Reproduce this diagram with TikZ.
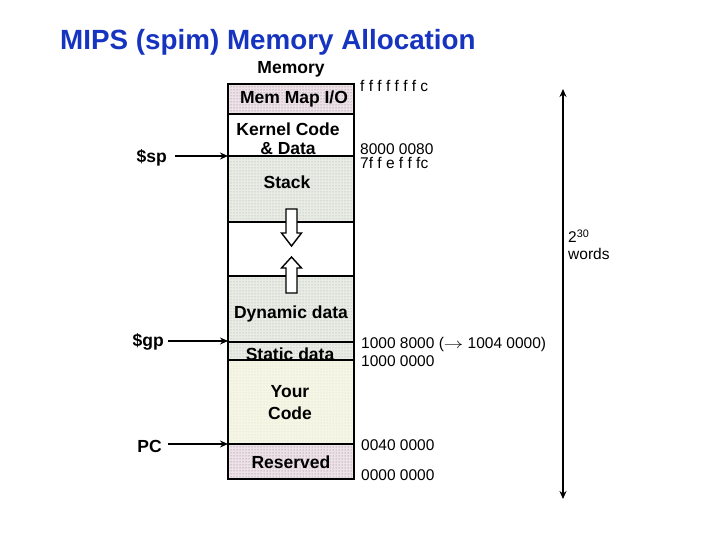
\documentclass[tikz,border=0pt]{standalone}
\usepackage{fontspec}
\setmainfont{Liberation Sans}
\usetikzlibrary{patterns,arrows.meta}
\definecolor{titleblue}{RGB}{22,52,192}
\definecolor{pinkbg}{RGB}{238,226,232}
\definecolor{greybg}{RGB}{232,236,228}
\definecolor{yellowbg}{RGB}{246,246,228}
\tikzset{
  lbl/.style={font=\fontsize{17.5}{20}\selectfont\bfseries, inner sep=0pt, align=center},
  addr/.style={font=\fontsize{15.5}{17}\selectfont, inner sep=0pt, anchor=west},
  region/.style={line width=2pt},
  dotted pink/.style={fill=pinkbg, postaction={pattern=dots, pattern color=black!55}},
  dotted grey/.style={fill=greybg, postaction={pattern=dots, pattern color=black!35}},
  dotted yellow/.style={fill=yellowbg, postaction={pattern=dots, pattern color=black!15}},
  ptr/.style={line width=1.8pt, -{Stealth[length=8pt,width=7pt]}},
  blockarrow/.style={fill=white, draw=black, line width=1.4pt, line join=miter},
  span/.style={line width=1.8pt, {Stealth[length=8pt,width=7pt]}-{Stealth[length=8pt,width=7pt]}}
}
\begin{document}
\begin{tikzpicture}[x=1pt,y=-1pt]
\useasboundingbox (0,0) rectangle (720,540);
% title
\node[anchor=west, inner sep=0pt, text=titleblue, font=\fontsize{27.8}{30}\selectfont\bfseries] (title) at (60,42) {MIPS (spim) Memory Allocation};
% regions
\fill[dotted pink] (228,84) rectangle (354,114);
\fill[white] (228,114) rectangle (354,156);
\fill[dotted grey] (228,156) rectangle (354,222);
\fill[white] (228,222) rectangle (354,276);
\fill[dotted grey] (228,276) rectangle (354,360);
\fill[dotted yellow] (228,360) rectangle (354,444);
\fill[dotted pink] (228,444) rectangle (354,479);
\foreach \yy in {114,156,222,276,342,360,444}
  \draw[region] (228,\yy) -- (354,\yy);
\draw[region] (228,84) rectangle (354,479);
% block arrows
\draw[blockarrow] (286,209) -- (297,209) -- (297,233) -- (301.5,233) -- (291.5,246) -- (281.5,233) -- (286,233) -- cycle;
\draw[blockarrow] (286,293) -- (297,293) -- (297,268) -- (301.5,268) -- (291.5,257) -- (281.5,268) -- (286,268) -- cycle;
% region labels
\node[lbl] (memory) at (291,69) {Memory};
\node[lbl] (memmap) at (294,99) {Mem Map I/O};
\node[lbl] (kernel1) at (288,129) {Kernel Code};
\node[lbl] (kernel2) at (288,149) {\& Data};
\node[lbl] (stack) at (287,182) {Stack};
\node[lbl] (dynamic) at (291,314) {Dynamic data};
\node[lbl] (static) at (290,354) {Static data};
\node[lbl] (your) at (290,392) {Your};
\node[lbl] (code) at (290,413) {Code};
\node[lbl] (reserved) at (291,462) {Reserved};
% addresses
\node[addr] (a1) at (360,86) {f f f f f f f c};
\node[addr] (a2) at (360,149) {8000 0080};
\node[addr] (a3) at (360,163) {7f f e f f fc};
\node[addr] (a4) at (361,344) {1000 8000 (\scalebox{1.35}[1]{$\rightarrow$} 1004 0000)};
\node[addr] (a5) at (361,361) {1000 0000};
\node[addr] (a6) at (361,445) {0040 0000};
\node[addr] (a7) at (361,475) {0000 0000};
% pointers
\node[lbl, anchor=east] (sp) at (167,158) {\$sp};
\node[lbl, anchor=east] (gp) at (164,342) {\$gp};
\node[lbl, anchor=east] (pc) at (162,446) {PC};
\coordinate (spT) at (228,156);
\coordinate (gpT) at (228,341);
\coordinate (pcT) at (228,444);
\draw[ptr, shorten <=8pt] (sp.east |- spT) -- (spT);
\draw[ptr, shorten <=4pt] (gp.east |- gpT) -- (gpT);
\draw[ptr, shorten <=6pt] (pc.east |- pcT) -- (pcT);
% span
\coordinate (top) at (563,89);
\coordinate (bot) at (563,499);
\draw[span] (top) -- (bot);
\node[addr] (pow) at (568,236) {2\textsuperscript{30}};
\node[addr] (words) at (568,254) {words};
\end{tikzpicture}
\end{document}
